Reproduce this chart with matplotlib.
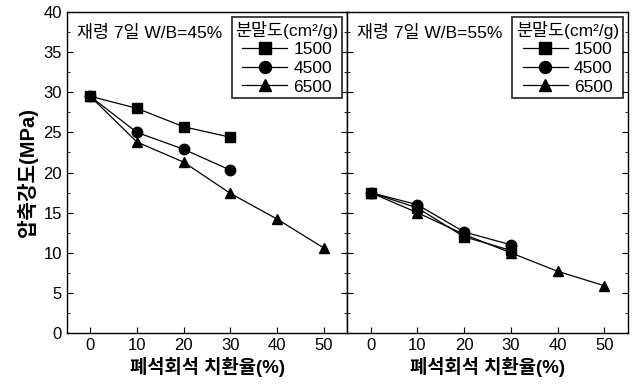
import matplotlib.pyplot as plt
from matplotlib.ticker import MultipleLocator

plt.rcParams['font.family'] = ['Liberation Sans', 'Noto Sans CJK KR']

x_full = [0, 10, 20, 30, 40, 50]
x_short = [0, 10, 20, 30]
fineness = ["1500", "4500", "6500"]
markers = ["s", "o", "^"]

# W/B = 45%
wb45_1500 = [29.5, 28.0, 25.7, 24.4]
wb45_4500 = [29.5, 25.0, 22.9, 20.3]
wb45_6500 = [29.5, 23.8, 21.3, 17.4, 14.2, 10.6]

# W/B = 55%
wb55_1500 = [17.5, 15.6, 12.0, 10.3]
wb55_4500 = [17.5, 16.0, 12.6, 11.0]
wb55_6500 = [17.5, 15.0, 12.3, 10.0, 7.7, 5.9]

panels = [
    ("재령 7일 W/B=45%", [wb45_1500, wb45_4500, wb45_6500]),
    ("재령 7일 W/B=55%", [wb55_1500, wb55_4500, wb55_6500]),
]

fig = plt.figure(figsize=(6.36, 3.86), dpi=100)
ax1 = fig.add_axes([0.105, 0.137, 0.441, 0.832])
ax2 = fig.add_axes([0.546, 0.137, 0.441, 0.832])

for ax, (label, series) in zip([ax1, ax2], panels):
    for name, m, ys in zip(fineness, markers, series):
        xs = x_full if len(ys) == 6 else x_short
        ax.plot(xs, ys, color="black", linewidth=0.9, marker=m,
                markersize=7.5, label=name)
    ax.set_xlim(-5, 55)
    ax.set_ylim(0, 40)
    ax.xaxis.set_major_locator(MultipleLocator(10))
    ax.yaxis.set_major_locator(MultipleLocator(5))
    ax.yaxis.set_minor_locator(MultipleLocator(2.5))
    ax.tick_params(direction="in", which="both", left=True, right=True,
                   labelsize=12, length=4)
    ax.tick_params(which="minor", length=2.5)
    ax.set_xlabel("폐석회석 치환율(%)", fontsize=13.5, fontweight="bold",
                  labelpad=3)
    ax.text(0.035, 0.96, label, transform=ax.transAxes, fontsize=12.5,
            va="top", ha="left")
    leg = ax.legend(title="분말도(cm²/g)", loc="upper right",
                    fontsize=12.5, title_fontsize=12.5, handlelength=2.6,
                    borderaxespad=0.3, frameon=True, fancybox=False,
                    borderpad=0.2, labelspacing=0.2, handletextpad=0.35,
                    markerscale=1.15)
    leg.get_frame().set_edgecolor("black")
    leg.get_frame().set_linewidth(1.3)
    for s in ax.spines.values():
        s.set_linewidth(1.0)

ax1.set_ylabel("압축강도(MPa)", fontsize=14.5, fontweight="bold", labelpad=4)
ax2.set_yticklabels([])

fig.savefig("out.png", dpi=100)
